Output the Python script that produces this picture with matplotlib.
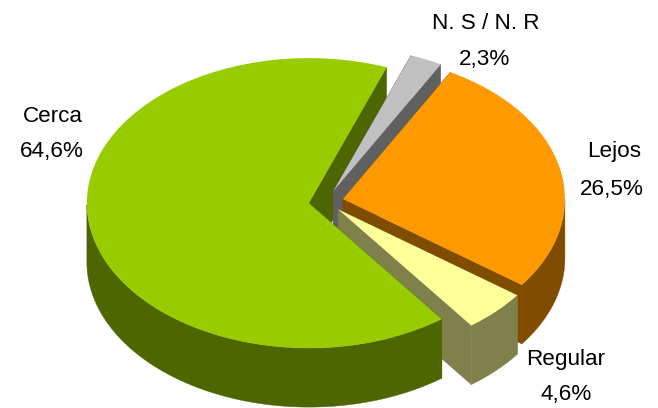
import numpy as np
import matplotlib
matplotlib.use("Agg")
import matplotlib.pyplot as plt
from matplotlib.patches import Polygon

categories = ["N. S / N. R", "Lejos", "Regular", "Cerca"]
values = [2.3, 26.5, 4.6, 64.6]
value_labels = ["2,3%", "26,5%", "4,6%", "64,6%"]
explode = [0.078, 0.078, 0.078, 0.078]
top_colors = ["#C0C0C0", "#FF9900", "#FFFF99", "#99CC00"]
side_colors = ["#606060", "#804D00", "#80804D", "#4D6600"]
label_pos_px = [(486, 23), (614, 152), (566, 359), (53, 116)]
value_pos_px = [(485, 59), (612, 189), (566, 395), (52, 151)]

W, H = 658, 408
CX, CY, RX, RY, DEPTH = 326, 201.5, 222, 145, 59
plt.rcParams["font.family"] = ["Liberation Sans", "DejaVu Sans"]

fig = plt.figure(figsize=(W / 100, H / 100), dpi=100)
ax = fig.add_axes([0, 0, 1, 1])
wedges, _ = ax.pie(values, explode=explode, colors=top_colors, startangle=69.5,
                   counterclock=False, radius=1, center=(0, 0))
ax.set_aspect("auto")
ax.set_xlim(-CX / RX, (W - CX) / RX)
ax.set_ylim((CY - H) / RY, CY / RY)
ax.axis("off")
d = DEPTH / RY


def px(p):
    return (p[0] - CX) / RX, (CY - p[1]) / RY


def cut_face(w, theta, color, z):
    t = np.radians(theta)
    c = np.array(w.center, float)
    p = c + w.r * np.array([np.cos(t), np.sin(t)])
    s = np.array([0, -d])
    ax.add_patch(Polygon([c, p, p + s, c + s], fc=color, ec=color, lw=0.3, zorder=z))


def outer_wall(w, color, z):
    # only the part of the rim that faces the viewer
    t = np.radians(np.linspace(w.theta1, w.theta2, 240))
    t = t[np.sin(t) <= 0]
    if len(t) < 2:
        return
    a = np.c_[w.center[0] + w.r * np.cos(t), w.center[1] + w.r * np.sin(t)]
    ax.add_patch(Polygon(np.r_[a, (a + [0, -d])[::-1]], fc=color, ec=color, lw=0.3, zorder=z))


# Back-to-front: Cerca's rear cut, N.S, Lejos, Regular, Cerca body
order = [2, 4, 6, 8]
for i, w in enumerate(wedges):
    z = order[i]
    if i == 3:
        # wedge runs clockwise from the Regular edge round to the rear edge
        cut_face(w, min(w.theta1, w.theta2), side_colors[i], 1)
        cut_face(w, max(w.theta1, w.theta2), side_colors[i], z)
    else:
        cut_face(w, w.theta1, side_colors[i], z)
        cut_face(w, w.theta2, side_colors[i], z)
    outer_wall(w, side_colors[i], z)
    w.set_zorder(z + 0.5)

for name, vlab, lp, vp in zip(categories, value_labels, label_pos_px, value_pos_px):
    ax.text(*px(lp), name, ha="center", va="center", fontsize=16.2, color="black", zorder=20)
    ax.text(*px(vp), vlab, ha="center", va="center", fontsize=16.2, color="black", zorder=20)

fig.savefig("out.png", dpi=100)
